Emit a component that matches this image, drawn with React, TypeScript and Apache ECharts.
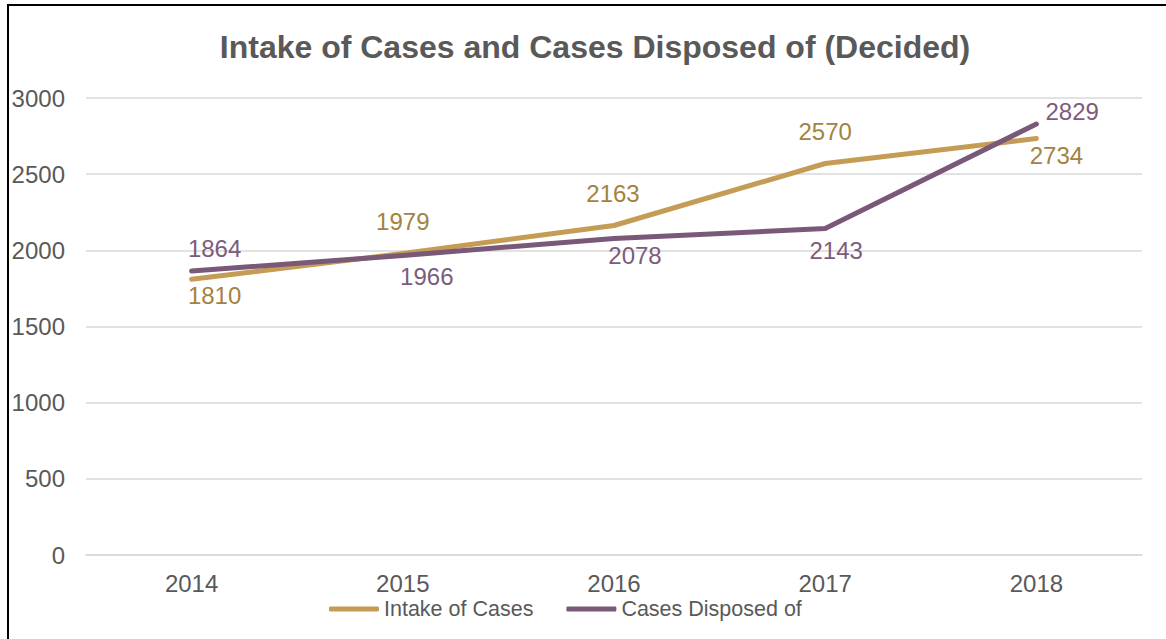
import React, { useEffect, useRef } from "react";
import * as echarts from "echarts";

const years = ["2014", "2015", "2016", "2017", "2018"];
const intakeOfCases = [1810, 1979, 2163, 2570, 2734];
const casesDisposedOf = [1864, 1966, 2078, 2143, 2829];

const GOLD = "#C49C55";
const GOLD_TEXT = "#A4823F";
const PURPLE = "#7A5878";
const PURPLE_TEXT = "#7C5C7C";

// label placement per point (style only): [position, dx, dy]
const intakeLabelPos: [string, number, number][] = [
  ["bottom", 23, -1],
  ["top", 0, -15],
  ["top", -1, -15],
  ["top", 0, -15],
  ["bottom", 20, 0],
];
const disposedLabelPos: [string, number, number][] = [
  ["top", 23, -6],
  ["bottom", 24, 4],
  ["bottom", 21, 0],
  ["bottom", 11, 5],
  ["right", 4, -13],
];

export default function App() {
  const ref = useRef<HTMLDivElement>(null);
  useEffect(() => {
    if (!ref.current) return;
    const chart = echarts.init(ref.current, undefined, { renderer: "svg" });
    const font = "Arial";
    const mk = (vals: number[], pos: [string, number, number][], color: string) =>
      vals.map((v, i) => ({
        value: v,
        label: { show: true, position: pos[i][0], distance: 5, color },
      }));
    const layout = (pos: [string, number, number][]) => (p: any) => ({
      dx: pos[p.dataIndex][1],
      dy: pos[p.dataIndex][2],
      hideOverlap: false,
    });
    chart.setOption({
      animation: false,
      textStyle: { fontFamily: font },
      title: {
        text: "Intake of Cases and Cases Disposed of (Decided)",
        left: 590,
        textAlign: "center",
        top: 26,
        textStyle: { fontSize: 32, fontWeight: "bold", color: "#595959", fontFamily: font },
      },
      legend: {
        left: 324,
        top: 593,
        itemWidth: 50,
        itemHeight: 5,
        itemGap: 33,
        icon: "roundRect",
        textStyle: { fontSize: 21.5, color: "#595959", fontFamily: font },
        data: [
          { name: "Intake of Cases", itemStyle: { color: GOLD, opacity: 1 } },
          { name: "Cases Disposed of", itemStyle: { color: PURPLE, opacity: 1 } },
        ],
      },
      grid: { left: 86, right: 24, top: 98, bottom: 84, containLabel: false },
      xAxis: {
        type: "category",
        data: years,
        boundaryGap: true,
        axisLine: { lineStyle: { color: "#D9D9D9", width: 1.5 } },
        axisTick: { show: false },
        axisLabel: { fontSize: 24, color: "#595959", margin: 16, fontFamily: font },
      },
      yAxis: {
        type: "value",
        min: 0,
        max: 3000,
        interval: 500,
        axisLine: { show: false },
        axisTick: { show: false },
        splitLine: { lineStyle: { color: "#D9D9D9", width: 1.5 } },
        axisLabel: {
          fontSize: 24,
          color: "#595959",
          margin: 21,
          fontFamily: font,
          formatter: (v: number) => String(v),
        },
      },
      series: [
        {
          name: "Intake of Cases",
          type: "line",
          data: mk(intakeOfCases, intakeLabelPos, GOLD_TEXT),
          symbol: "circle",
          symbolSize: 0.1,
          showSymbol: true,
          lineStyle: { color: GOLD, width: 5, cap: "round", join: "round" },
          itemStyle: { color: GOLD },
          label: { show: true, fontSize: 24, fontFamily: font, color: GOLD_TEXT },
          labelLayout: layout(intakeLabelPos),
          z: 2,
        },
        {
          name: "Cases Disposed of",
          type: "line",
          data: mk(casesDisposedOf, disposedLabelPos, PURPLE_TEXT),
          symbol: "circle",
          symbolSize: 0.1,
          showSymbol: true,
          lineStyle: { color: PURPLE, width: 5, cap: "round", join: "round" },
          itemStyle: { color: PURPLE },
          label: { show: true, fontSize: 24, fontFamily: font, color: PURPLE_TEXT },
          labelLayout: layout(disposedLabelPos),
          z: 3,
        },
      ],
    });
    return () => chart.dispose();
  }, []);
  return (
    <div style={{ position: "fixed", left: 0, top: 0, width: 1166, height: 639, background: "#fff" }}>
      <div
        style={{
          position: "absolute",
          left: 7,
          top: 4,
          width: 1200,
          height: 700,
          borderTop: "2px solid #000",
          borderLeft: "2px solid #000",
        }}
      />
      <div ref={ref} style={{ position: "absolute", left: 0, top: 0, width: 1166, height: 639 }} />
    </div>
  );
}
